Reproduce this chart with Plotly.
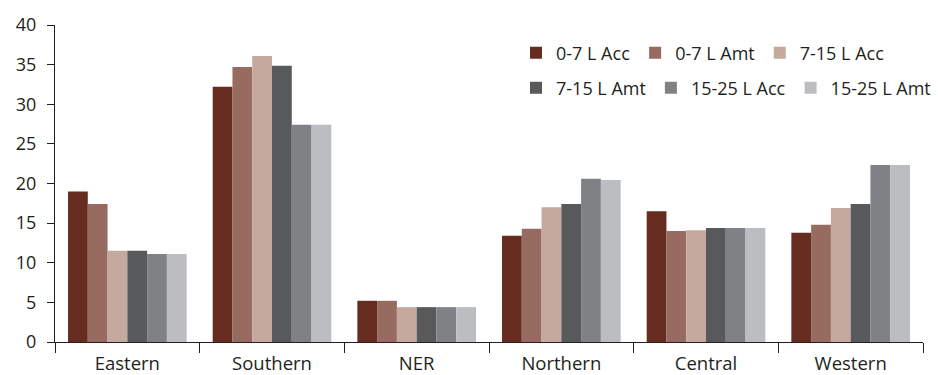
import plotly.graph_objects as go

# Regions along the x axis
regions = ["Eastern", "Southern", "NER", "Northern", "Central", "Western"]

# Series values per region
acc_0_7 = [19.0, 32.2, 5.2, 13.4, 16.5, 13.8]
amt_0_7 = [17.4, 34.7, 5.2, 14.3, 14.0, 14.8]
acc_7_15 = [11.5, 36.1, 4.4, 17.0, 14.1, 16.9]
amt_7_15 = [11.5, 34.85, 4.4, 17.4, 14.4, 17.4]
acc_15_25 = [11.1, 27.4, 4.4, 20.6, 14.4, 22.35]
amt_15_25 = [11.1, 27.4, 4.4, 20.45, 14.4, 22.35]

series_names = ["0-7 L Acc", "0-7 L Amt", "7-15 L Acc",
                "7-15 L Amt", "15-25 L Acc", "15-25 L Amt"]
series_values = [acc_0_7, amt_0_7, acc_7_15, amt_7_15, acc_15_25, amt_15_25]
series_colors = ["#672c20", "#976b5f", "#c6a99e",
                 "#58595b", "#808184", "#bcbdc1"]

y_ticks = [0, 5, 10, 15, 20, 25, 30, 35, 40]

TEXT = "#231f20"
FONT = "Open Sans"

fig = go.Figure()
for i, (name, vals, col) in enumerate(zip(series_names, series_values, series_colors)):
    fig.add_trace(go.Bar(
        x=regions, y=vals, name=name,
        marker=dict(color=col, line=dict(width=0)),
        legend="legend" if i < 3 else "legend2",
    ))

W, H = 938, 375
legend_common = dict(
    orientation="h",
    xref="container", yref="container",
    xanchor="left", yanchor="middle",
    font=dict(family=FONT, size=18, color=TEXT),
    bgcolor="rgba(0,0,0,0)",
    borderwidth=0,
    itemclick=False, itemdoubleclick=False,
)

fig.update_layout(
    width=W, height=H,
    margin=dict(l=55, r=15, t=25, b=33, autoexpand=False),
    paper_bgcolor="white", plot_bgcolor="white",
    barmode="group", bargap=0.18, bargroupgap=0,
    font=dict(family=FONT, color=TEXT),
    legend=dict(x=516 / W, y=1 - 53 / H, **legend_common),
    legend2=dict(x=516 / W, y=1 - 88 / H, **legend_common),
    xaxis=dict(
        showline=True, linecolor=TEXT, linewidth=1.3,
        ticks="outside", tickson="boundaries", ticklen=10, tickwidth=1.3,
        tickcolor=TEXT, showgrid=False, zeroline=False,
        tickfont=dict(family=FONT, size=18.5, color=TEXT),
        ticklabelstandoff=5,
        automargin=False,
    ),
    yaxis=dict(
        range=[0, 40], tickvals=y_ticks, ticktext=[str(v) for v in y_ticks],
        showline=True, linecolor=TEXT, linewidth=1.3,
        ticks="outside", ticklen=7, tickwidth=1.3, tickcolor=TEXT,
        showgrid=False, zeroline=False,
        tickfont=dict(family=FONT, size=18, color=TEXT),
        ticklabelstandoff=7,
        automargin=False,
    ),
)

fig.write_html("out.html")
